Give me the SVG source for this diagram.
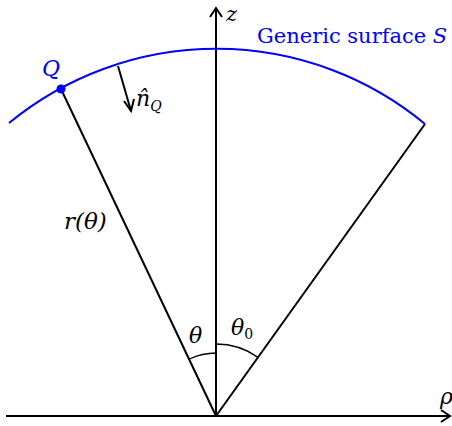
<svg xmlns="http://www.w3.org/2000/svg" width="452" height="426" viewBox="0 0 452 426">
<style>
.ln{stroke:#000;stroke-width:2;fill:none}
.thin{stroke:#000;stroke-width:1.3;fill:none}
.blue{stroke:#0000ff;stroke-width:2;fill:none}
.m{font-family:"DejaVu Serif","Liberation Serif",serif;font-style:italic;fill:#000}
.b{fill:#0000ff}
</style>
<rect width="452" height="426" fill="#fff"/>
<g id="connectors">
<line class="ln" x1="6" y1="416" x2="450" y2="416"/>
<path class="ln" d="M441,410 L450,416 L441,422"/>
<line class="ln" x1="216" y1="416" x2="216" y2="8"/>
<path class="ln" d="M210,17 L216,8 L222,17"/>
<line class="ln" x1="216" y1="416" x2="61" y2="89"/>
<line class="ln" x1="216" y1="416" x2="425" y2="124"/>
<line class="ln" x1="118" y1="66" x2="131" y2="111"/>
<path class="ln" d="M124,101 L131,111 L134,99"/>
<path class="thin" d="M189.5,359 A63,63 0 0 1 216,353"/>
<path class="thin" d="M216,344 A72,72 0 0 1 258,357.4"/>
</g>
<g id="surface">
<path class="blue" d="M9,123 A327,327 0 0 1 425,124"/>
<circle cx="61" cy="89" r="4.5" fill="#0000ff"/>
</g>
<g id="labels">
<text class="m b" x="42" y="76" font-size="22">Q</text>
<text x="257" y="43" font-family="DejaVu Serif,Liberation Serif,serif" font-size="21" fill="#0000ff">Generic surface <tspan font-style="italic">S</tspan></text>
<text class="m" x="226" y="21" font-size="21">z</text>
<text class="m" x="440" y="404" font-size="22">ρ</text>
<text class="m" x="64" y="229" font-size="23">r(θ)</text>
<text class="m" x="136" y="106" font-size="22">n̂<tspan font-size="14" dy="5">Q</tspan></text>
<text class="m" x="189" y="343" font-size="22">θ</text>
<text class="m" x="231" y="335" font-size="22">θ<tspan font-size="14" dy="4" font-style="normal">0</tspan></text>
</g>
</svg>
